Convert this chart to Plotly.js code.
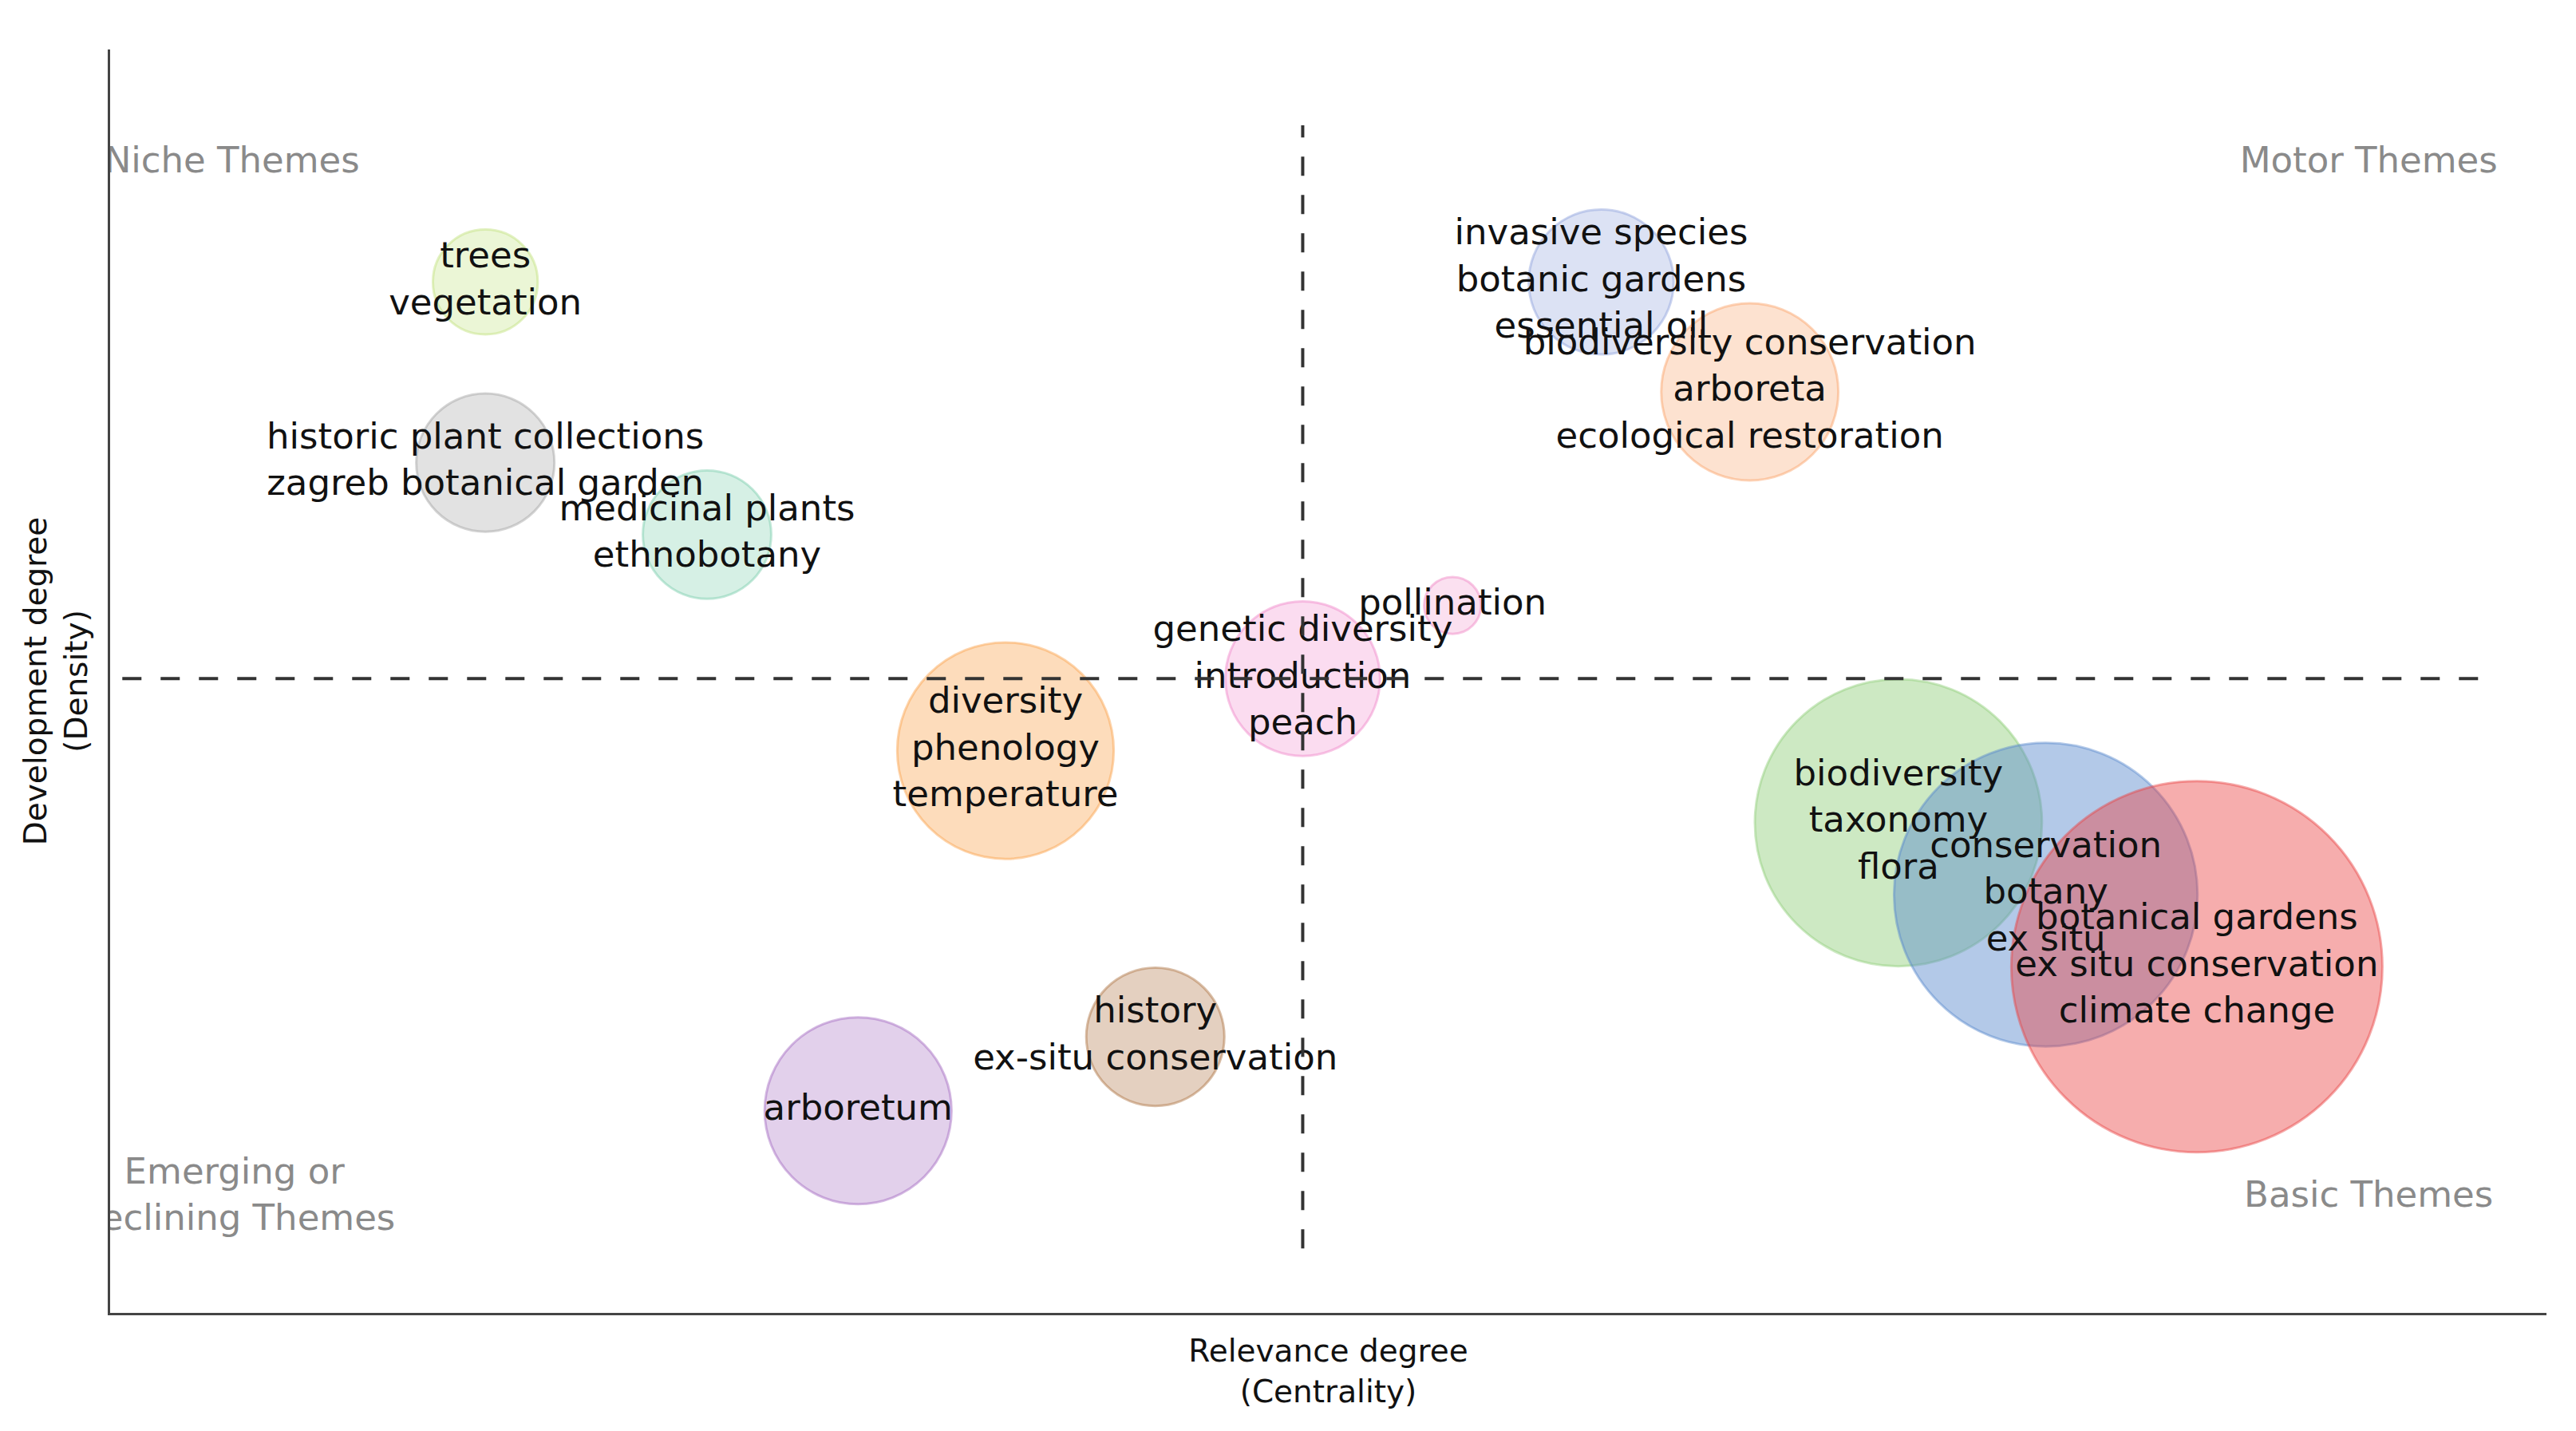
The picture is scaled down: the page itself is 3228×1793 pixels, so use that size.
<!DOCTYPE html>
<html>
<head>
<meta charset="utf-8">
<script src="https://cdn.plot.ly/plotly-3.0.1.min.js"></script>
<style>html,body{margin:0;padding:0;background:#fff;}#chart{width:3228px;height:1793px;}</style>
</head>
<body>
<div id="chart"></div>
<script>
const themeLabels = [
  "trees<br>vegetation",
  "historic plant collections<br>zagreb botanical garden",
  "medicinal plants<br>ethnobotany",
  "invasive species<br>botanic gardens<br>essential oil",
  "biodiversity conservation<br>arboreta<br>ecological restoration",
  "pollination",
  "genetic diversity<br>introduction<br>peach",
  "diversity<br>phenology<br>temperature",
  "history<br>ex-situ conservation",
  "arboretum",
  "biodiversity<br>taxonomy<br>flora",
  "conservation<br>botany<br>ex situ",
  "botanical gardens<br>ex situ conservation<br>climate change"
];
// Relevance degree (centrality), relative units
const centrality = [15.4, 15.4, 24.5, 61.2, 67.3, 55.1, 48.95, 36.75, 42.9, 30.7, 73.4, 79.45, 85.65];
// Development degree (density), relative units
const density = [81.6, 67.3, 61.6, 81.6, 72.9, 56.0, 50.2, 44.5, 21.85, 16.0, 38.8, 33.1, 27.4];
// Cluster frequency (bubble area)
const frequency = [34, 59, 51, 65, 97, 10, 74, 145, 59, 108, 255, 285, 426];

// Quadrant reference lines
const centralityCut = 48.95;
const densityCut = 50.2;
const vLineSpan = [5.1, 94.0];
const hLineSpan = [0.5, 97.3];

// Quadrant labels
const quadrantLabels = ["Niche Themes", "Motor Themes", "Emerging or<br>Declining Themes", "Basic Themes"];
const quadrantX = [5.0, 92.7, 5.1, 92.7];
const quadrantY = [91.0, 91.0, 9.1, 9.1];

// ---- Styles ----
const fillColors = [
  "rgba(190,225,120,0.30)",
  "rgba(160,160,160,0.30)",
  "rgba(120,205,170,0.30)",
  "rgba(140,160,220,0.30)",
  "rgba(250,160,100,0.30)",
  "rgba(240,130,195,0.25)",
  "rgba(240,130,200,0.28)",
  "rgba(250,160,70,0.37)",
  "rgba(170,110,60,0.32)",
  "rgba(160,100,190,0.30)",
  "rgba(144,206,122,0.45)",
  "rgba(86,135,204,0.45)",
  "rgba(233,66,66,0.43)"
];
const lineColors = fillColors.map(c => c.replace(/[\d.]+\)$/, "0.45)"));
const maxDiameterPx = 465;

const bubbles = {
  type: "scatter",
  mode: "markers+text",
  x: centrality,
  y: density,
  text: themeLabels,
  textposition: "middle center",
  textfont: {family: "DejaVu Sans, Verdana, sans-serif", size: 45, color: "#111111"},
  marker: {
    size: frequency,
    sizemode: "area",
    sizeref: 2 * Math.max(...frequency) / (maxDiameterPx * maxDiameterPx),
    color: fillColors,
    line: {color: lineColors, width: 3},
    opacity: 1
  },
  hoverinfo: "text",
  showlegend: false,
  cliponaxis: true
};

const quadrants = {
  type: "scatter",
  mode: "text",
  x: quadrantX,
  y: quadrantY,
  text: quadrantLabels,
  textposition: "middle center",
  textfont: {family: "DejaVu Sans, Verdana, sans-serif", size: 45, color: "#8a8a8a"},
  hoverinfo: "skip",
  showlegend: false,
  cliponaxis: true
};

const dashStyle = {color: "#333333", width: 4, dash: "24px,24px"};

const layout = {
  width: 3228,
  height: 1793,
  margin: {l: 138, r: 37, t: 62, b: 148, pad: 0},
  paper_bgcolor: "#ffffff",
  plot_bgcolor: "#ffffff",
  font: {family: "DejaVu Sans, Verdana, sans-serif", size: 39, color: "#111111"},
  showlegend: false,
  hovermode: false,
  xaxis: {
    range: [0, 100],
    showgrid: false, zeroline: false, showticklabels: false, ticks: "",
    showline: true, linecolor: "#444444", linewidth: 3,
    automargin: false,
    title: {text: "Relevance degree<br>(Centrality)", font: {size: 39, color: "#111111"}, standoff: 32}
  },
  yaxis: {
    range: [0, 100],
    showgrid: false, zeroline: false, showticklabels: false, ticks: "",
    showline: true, linecolor: "#444444", linewidth: 3,
    automargin: false,
    title: {text: "Development degree<br>(Density)", font: {size: 39, color: "#111111"}, standoff: 14}
  },
  shapes: [
    {type: "line", xref: "x", yref: "y", x0: centralityCut, x1: centralityCut, y0: vLineSpan[0], y1: vLineSpan[1], line: dashStyle, layer: "above"},
    {type: "line", xref: "x", yref: "y", x0: hLineSpan[0], x1: hLineSpan[1], y0: densityCut, y1: densityCut, line: dashStyle, layer: "above"}
  ]
};

Plotly.newPlot("chart", [bubbles, quadrants], layout, {displayModeBar: false, responsive: false});
</script>
</body>
</html>
